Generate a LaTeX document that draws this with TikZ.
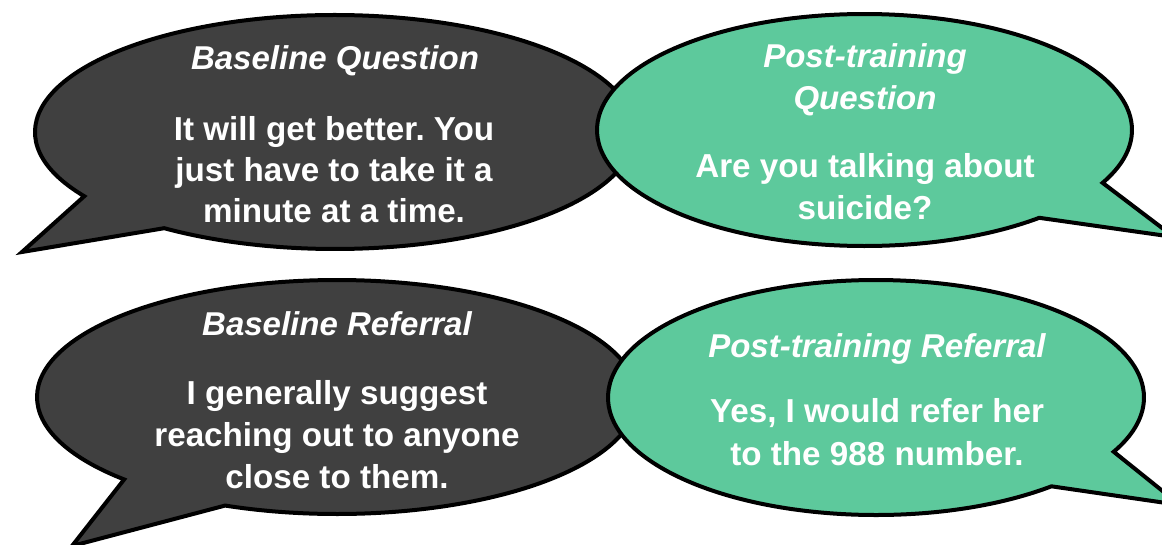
\documentclass[tikz,border=0pt]{standalone}
\usepackage{fontspec}
\setmainfont{Liberation Sans}
\frenchspacing
\definecolor{darkbub}{HTML}{404040}
\definecolor{greenbub}{HTML}{5DC99C}
\tikzset{
  bubbleline/.style={draw=black, line width=4pt, line join=miter, miter limit=10},
  darkbubble/.style={bubbleline, fill=darkbub},
  greenbubble/.style={bubbleline, fill=greenbub},
  bodytext/.style={text=white, inner sep=0pt, anchor=base, font=\fontsize{33.2}{40}\selectfont\bfseries},
  titletext/.style={text=white, inner sep=0pt, anchor=base, font=\fontsize{33}{40}\selectfont\bfseries\itshape},
}
% #1 style, #2 cx, #3 cy, #4 rx, #5 ry, #6 start angle, #7 end angle, #8 tip
\newcommand\speechbubble[8]{%
  \draw[#1] ({#2+#4*cos(#6)},{#3+#5*sin(#6)}) arc[start angle=#6, end angle=#7, x radius=#4, y radius=#5] -- #8 -- cycle;
}
\begin{document}
\begin{tikzpicture}[x=1pt,y=-1pt]
\clip (0,0) rectangle (1162,544);
\fill[white] (0,0) rectangle (1162,544);
% top row
\coordinate (tipA) at (22,252);
\coordinate (tipB) at (1174,237);
\speechbubble{darkbubble}{335}{132}{300}{117}{146.7}{484.7}{(tipA)}
\speechbubble{greenbubble}{864.5}{130}{267.5}{116}{49.2}{387.1}{(tipB)}
% bottom row
\coordinate (tipC) at (72,546);
\coordinate (tipD) at (1180,505);
\speechbubble{darkbubble}{337}{397}{300}{117}{135.2}{471.9}{(tipC)}
\speechbubble{greenbubble}{876}{397.5}{268}{117.5}{49.1}{387.5}{(tipD)}
% texts: baseline question
\node[titletext] (t1) at (335,69) {Baseline Question};
\node[bodytext] (b1a) at (334,140) {It will get better. You};
\node[bodytext] (b1b) at (334,181) {just have to take it a};
\node[bodytext] (b1c) at (334,222) {minute at a time.};
% post-training question
\node[titletext] (t2a) at (865,67) {Post-training};
\node[titletext] (t2b) at (865,109) {Question};
\node[bodytext] (b2a) at (865,177) {Are you talking about};
\node[bodytext] (b2b) at (865,219) {suicide?};
% baseline referral
\node[titletext] (t3) at (337,335) {Baseline Referral};
\node[bodytext] (b3a) at (337,404) {I generally suggest};
\node[bodytext] (b3b) at (337,446) {reaching out to anyone};
\node[bodytext] (b3c) at (337,488) {close to them.};
% post-training referral
\node[titletext] (t4) at (877,357) {Post-training Referral};
\node[bodytext] (b4a) at (877,422) {Yes, I would refer her};
\node[bodytext] (b4b) at (877,465) {to the 988 number.};
\end{tikzpicture}
\end{document}
